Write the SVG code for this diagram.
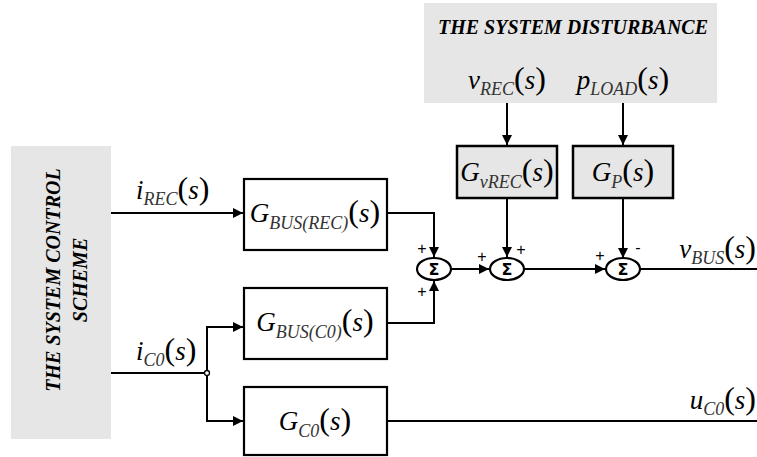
<svg xmlns="http://www.w3.org/2000/svg" width="757" height="457" viewBox="0 0 757 457">
<style>
.ln{fill:none;stroke:#000;stroke-width:2}
.box{fill:#fff;stroke:#000;stroke-width:2.2}
.gbox{fill:#e6e6e6;stroke:#000;stroke-width:2.5}
.panel{fill:#e6e6e6;stroke:none}
.title{font-family:"Liberation Serif","Times New Roman",serif;font-weight:bold;font-style:italic;font-size:20px;fill:#000}
.vt{font-size:20px}
.m{font-family:"Liberation Serif","Times New Roman",serif;font-style:italic;font-size:27px;fill:#000}
.sub{font-size:18px;fill:#333}
.par{font-style:normal;font-size:32px}
.sg{font-family:"Liberation Sans",sans-serif;font-size:16px;fill:#000}
.sig{font-family:"DejaVu Sans",sans-serif;font-weight:bold;font-size:16px;fill:#000}
.sum{fill:#fff;stroke:#000;stroke-width:2.2}
</style>
<defs>
<marker id="ar" viewBox="0 0 10 10" refX="10" refY="5" markerWidth="10" markerHeight="10" markerUnits="userSpaceOnUse" orient="auto">
<path d="M0,0 L10,5 L0,10 z" fill="#000"/>
</marker>
</defs>

<g id="control-scheme">
<rect class="panel" x="11" y="146" width="100" height="293"/>
<text class="title vt" text-anchor="middle" transform="translate(60,280) rotate(-90)">THE SYSTEM CONTROL</text>
<text class="title vt" text-anchor="middle" transform="translate(87,280) rotate(-90)">SCHEME</text>
</g>

<g id="disturbance">
<rect class="panel" x="424" y="3" width="293" height="100"/>
<text class="title" x="573" y="34" text-anchor="middle">THE SYSTEM DISTURBANCE</text>
<text class="m" x="507" y="89" text-anchor="middle">v<tspan class="sub" dy="6">REC</tspan><tspan class="par" dy="-6">(</tspan>s<tspan class="par">)</tspan></text>
<text class="m" x="623" y="89" text-anchor="middle">p<tspan class="sub" dy="6">LOAD</tspan><tspan class="par" dy="-6">(</tspan>s<tspan class="par">)</tspan></text>
</g>

<g id="connectors">
<line class="ln" x1="111" y1="213" x2="243" y2="213" marker-end="url(#ar)"/>
<polyline class="ln" points="111,373 207,373"/>
<polyline class="ln" points="207,373 207,327 243,327" marker-end="url(#ar)"/>
<polyline class="ln" points="207,373 207,421 243,421" marker-end="url(#ar)"/>
<polyline class="ln" points="387,213 434,213 434,257" marker-end="url(#ar)"/>
<polyline class="ln" points="387,323 434,323 434,281" marker-end="url(#ar)"/>
<line class="ln" x1="507" y1="103" x2="507" y2="145" marker-end="url(#ar)"/>
<line class="ln" x1="623" y1="103" x2="623" y2="145" marker-end="url(#ar)"/>
<line class="ln" x1="507" y1="198" x2="507" y2="257" marker-end="url(#ar)"/>
<line class="ln" x1="623" y1="198" x2="623" y2="258" marker-end="url(#ar)"/>
<line class="ln" x1="451" y1="269" x2="489" y2="269" marker-end="url(#ar)"/>
<line class="ln" x1="524" y1="269" x2="605" y2="269" marker-end="url(#ar)"/>
<line class="ln" x1="640" y1="269" x2="757" y2="269"/>
<line class="ln" x1="387" y1="421" x2="757" y2="421"/>
<circle cx="207" cy="373" r="2.5" fill="#fff" stroke="#000" stroke-width="1.3"/>
<text class="m" x="136" y="199">i<tspan class="sub" dy="6">REC</tspan><tspan class="par" dy="-6">(</tspan>s<tspan class="par">)</tspan></text>
<text class="m" x="136" y="360">i<tspan class="sub" dy="6">C0</tspan><tspan class="par" dy="-6">(</tspan>s<tspan class="par">)</tspan></text>
<text class="m" x="756" y="258" text-anchor="end">v<tspan class="sub" dy="6">BUS</tspan><tspan class="par" dy="-6">(</tspan>s<tspan class="par">)</tspan></text>
<text class="m" x="756" y="409" text-anchor="end">u<tspan class="sub" dy="6">C0</tspan><tspan class="par" dy="-6">(</tspan>s<tspan class="par">)</tspan></text>
<text class="sg" x="422" y="254" text-anchor="middle">+</text>
<text class="sg" x="422" y="297" text-anchor="middle">+</text>
<text class="sg" x="482" y="262" text-anchor="middle">+</text>
<text class="sg" x="521" y="255" text-anchor="middle">+</text>
<text class="sg" x="600" y="261" text-anchor="middle">+</text>
<text class="sg" x="638" y="253" text-anchor="middle">-</text>
</g>

<g id="g-bus-rec">
<rect class="box" x="244" y="179" width="143" height="71"/>
<text class="m" x="315" y="222" text-anchor="middle">G<tspan class="sub" dy="7">BUS(REC)</tspan><tspan class="par" dy="-7">(</tspan>s<tspan class="par">)</tspan></text>
</g>
<g id="g-bus-c0">
<rect class="box" x="244" y="288" width="143" height="71"/>
<text class="m" x="315" y="331" text-anchor="middle">G<tspan class="sub" dy="7">BUS(C0)</tspan><tspan class="par" dy="-7">(</tspan>s<tspan class="par">)</tspan></text>
</g>
<g id="g-c0">
<rect class="box" x="244" y="387" width="143" height="68"/>
<text class="m" x="315" y="430" text-anchor="middle">G<tspan class="sub" dy="7">C0</tspan><tspan class="par" dy="-7">(</tspan>s<tspan class="par">)</tspan></text>
</g>
<g id="g-vrec">
<rect class="gbox" x="457" y="146" width="100" height="52"/>
<text class="m" x="507" y="181" text-anchor="middle">G<tspan class="sub" dy="7">vREC</tspan><tspan class="par" dy="-7">(</tspan>s<tspan class="par">)</tspan></text>
</g>
<g id="g-p">
<rect class="gbox" x="573" y="146" width="100" height="52"/>
<text class="m" x="623" y="181" text-anchor="middle">G<tspan class="sub" dy="7">P</tspan><tspan class="par" dy="-7">(</tspan>s<tspan class="par">)</tspan></text>
</g>
<g id="sum1">
<ellipse class="sum" cx="434" cy="269" rx="17" ry="11"/>
<text class="sig" x="434" y="275" text-anchor="middle">Σ</text>
</g>
<g id="sum2">
<ellipse class="sum" cx="507" cy="269" rx="17" ry="11"/>
<text class="sig" x="507" y="275" text-anchor="middle">Σ</text>
</g>
<g id="sum3">
<ellipse class="sum" cx="623" cy="269" rx="17" ry="11"/>
<text class="sig" x="623" y="275" text-anchor="middle">Σ</text>
</g>
</svg>
